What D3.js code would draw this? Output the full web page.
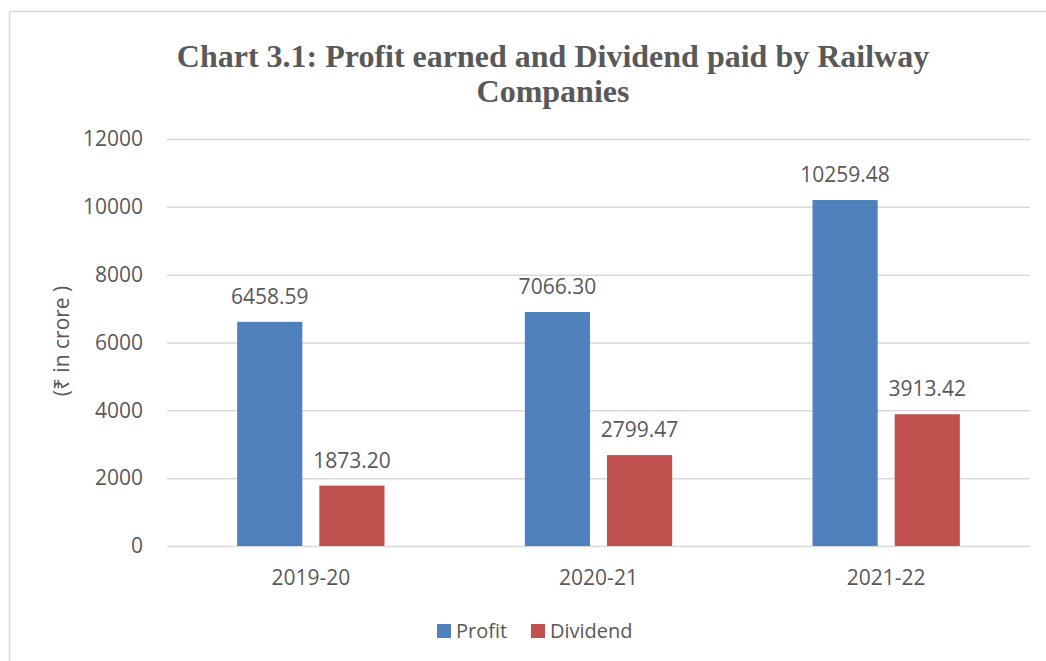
<!DOCTYPE html>
<html>
<head>
<meta charset="utf-8">
<script src="https://d3js.org/d3.v7.min.js"></script>
<style>
  body { margin: 0; background: #fff; }
  text { font-family: "Open Sans", sans-serif; fill: #595959; }
</style>
</head>
<body>
<script>
// values (bar heights) and the printed data labels
var years = ["2019-20", "2020-21", "2021-22"];
var seriesNames = ["Profit", "Dividend"];
var profit = [6610, 6900, 10200];
var dividend = [1780, 2680, 3885];
var profitLabels = ["6458.59", "7066.30", "10259.48"];
var dividendLabels = ["1873.20", "2799.47", "3913.42"];
var yTicks = [0, 2000, 4000, 6000, 8000, 10000, 12000];

var colors = {Profit: "#4f81bd", Dividend: "#c0504d"};

var width = 1046, height = 661;
var margin = {top: 139, right: 16, bottom: 115, left: 167};

var data = years.map(function(y, i) {
    return {
        year: y,
        values: [
            {key: "Profit", value: profit[i], label: profitLabels[i]},
            {key: "Dividend", value: dividend[i], label: dividendLabels[i]}
        ]
    };
});

var svg = d3.select("body").append("svg")
    .attr("width", width)
    .attr("height", height);

// chart frame (cut off on the right and bottom like the original)
svg.append("rect")
    .attr("x", 9.5)
    .attr("y", 11.5)
    .attr("width", 1100)
    .attr("height", 700)
    .attr("fill", "none")
    .attr("stroke", "#d9d9d9")
    .attr("stroke-width", 1.5);

var x0 = d3.scaleBand()
    .domain(years)
    .range([margin.left, width - margin.right]);

var x1 = d3.scaleBand()
    .domain(seriesNames)
    .range([0, x0.bandwidth()])
    .paddingInner(0.207)
    .paddingOuter(0.854);

var y = d3.scaleLinear()
    .domain([0, 12000])
    .range([height - margin.bottom, margin.top]);

// gridlines + y axis labels
var yAxis = d3.axisLeft(y)
    .tickValues(yTicks)
    .tickFormat(d3.format("d"))
    .tickSize(-(width - margin.left - margin.right))
    .tickPadding(24);

var gy = svg.append("g")
    .attr("transform", "translate(" + margin.left + ",0)")
    .call(yAxis);
gy.select(".domain").remove();
gy.selectAll(".tick line")
    .attr("stroke", "#d9d9d9")
    .attr("stroke-width", 1.5);
gy.selectAll(".tick text")
    .style("font-family", "Open Sans, sans-serif")
    .style("font-size", "21px")
    .attr("fill", "#595959");

// bars
var groups = svg.selectAll(".year")
    .data(data)
    .enter().append("g")
    .attr("class", "year")
    .attr("transform", function(d) { return "translate(" + x0(d.year) + ",0)"; });

groups.selectAll("rect")
    .data(function(d) { return d.values; })
    .enter().append("rect")
    .attr("x", function(d) { return x1(d.key); })
    .attr("y", function(d) { return y(d.value); })
    .attr("width", x1.bandwidth())
    .attr("height", function(d) { return y(0) - y(d.value); })
    .attr("fill", function(d) { return colors[d.key]; });

// data labels
groups.selectAll(".lbl")
    .data(function(d) { return d.values; })
    .enter().append("text")
    .attr("class", "lbl")
    .attr("x", function(d) { return x1(d.key) + x1.bandwidth() / 2; })
    .attr("y", function(d) { return y(d.value) - 18; })
    .attr("text-anchor", "middle")
    .style("font-size", "21px")
    .text(function(d) { return d.label; });

// x axis labels
var xAxis = d3.axisBottom(x0)
    .tickSize(0)
    .tickPadding(24);
var gx = svg.append("g")
    .attr("transform", "translate(0," + y(0) + ")")
    .call(xAxis);
gx.select(".domain").remove();
gx.selectAll(".tick text")
    .style("font-family", "Open Sans, sans-serif")
    .style("font-size", "21px")
    .attr("fill", "#595959");

// title
svg.append("text")
    .attr("x", 553)
    .attr("y", 67)
    .attr("text-anchor", "middle")
    .style("font-family", "Liberation Serif, Times New Roman, serif")
    .style("font-weight", "bold")
    .style("font-size", "32px")
    .text("Chart 3.1: Profit earned and Dividend paid by Railway");
svg.append("text")
    .attr("x", 553)
    .attr("y", 102)
    .attr("text-anchor", "middle")
    .style("font-family", "Liberation Serif, Times New Roman, serif")
    .style("font-weight", "bold")
    .style("font-size", "32px")
    .text("Companies");

// y axis title
svg.append("text")
    .attr("transform", "translate(69,341) rotate(-90)")
    .attr("text-anchor", "middle")
    .style("font-size", "21px")
    .text("(\u20B9 in crore )");

// legend
var legend = svg.append("g");
var legendX = [437, 531];
seriesNames.forEach(function(s, i) {
    legend.append("rect")
        .attr("x", legendX[i])
        .attr("y", 624)
        .attr("width", 14)
        .attr("height", 14)
        .attr("fill", colors[s]);
    legend.append("text")
        .attr("x", legendX[i] + 19)
        .attr("y", 638)
        .style("font-size", "20px")
        .text(s);
});
</script>
</body>
</html>
